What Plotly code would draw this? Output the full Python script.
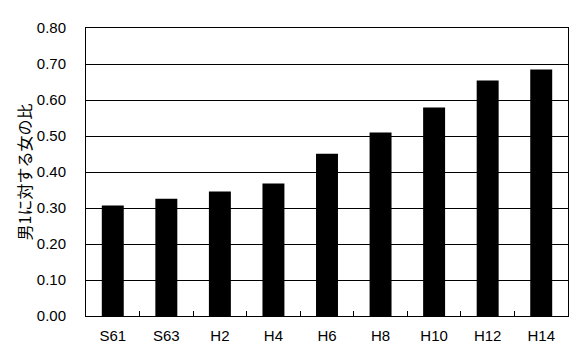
import plotly.graph_objects as go

categories = ["S61", "S63", "H2", "H4", "H6", "H8", "H10", "H12", "H14"]
values = [0.307, 0.326, 0.346, 0.368, 0.451, 0.510, 0.579, 0.654, 0.685]
y_ticks = [0.0, 0.1, 0.2, 0.3, 0.4, 0.5, 0.6, 0.7, 0.8]
y_title = "男1に対する女の比"

fig = go.Figure(go.Bar(x=categories, y=values, marker=dict(color="black", line=dict(width=0))))

font_fam = "Liberation Sans, Arial, sans-serif"
fig.update_layout(
    width=581, height=362,
    margin=dict(l=86, r=13, t=28, b=46),
    paper_bgcolor="white", plot_bgcolor="white",
    bargap=0.59,
    showlegend=False,
    font=dict(family=font_fam, size=15, color="black"),
)
fig.update_xaxes(
    type="category",
    showline=True, linecolor="black", linewidth=1, mirror=True,
    ticks="inside", ticklen=5, tickcolor="black", tickson="boundaries",
    showgrid=False, ticklabelstandoff=6,
    tickfont=dict(family=font_fam, size=15, color="black"),
)
fig.update_yaxes(
    range=[0, 0.8],
    tickvals=y_ticks,
    ticktext=[f"{v:.2f}" for v in y_ticks],
    showline=True, linecolor="black", linewidth=1, mirror=True,
    showgrid=True, gridcolor="black", gridwidth=1,
    ticks="", ticklabelstandoff=16,
    tickfont=dict(family=font_fam, size=15, color="black"),
    title=dict(text=y_title, font=dict(family="Noto Sans CJK JP", size=16, color="black"), standoff=1),
    zeroline=False,
)

fig.write_html("out.html")
